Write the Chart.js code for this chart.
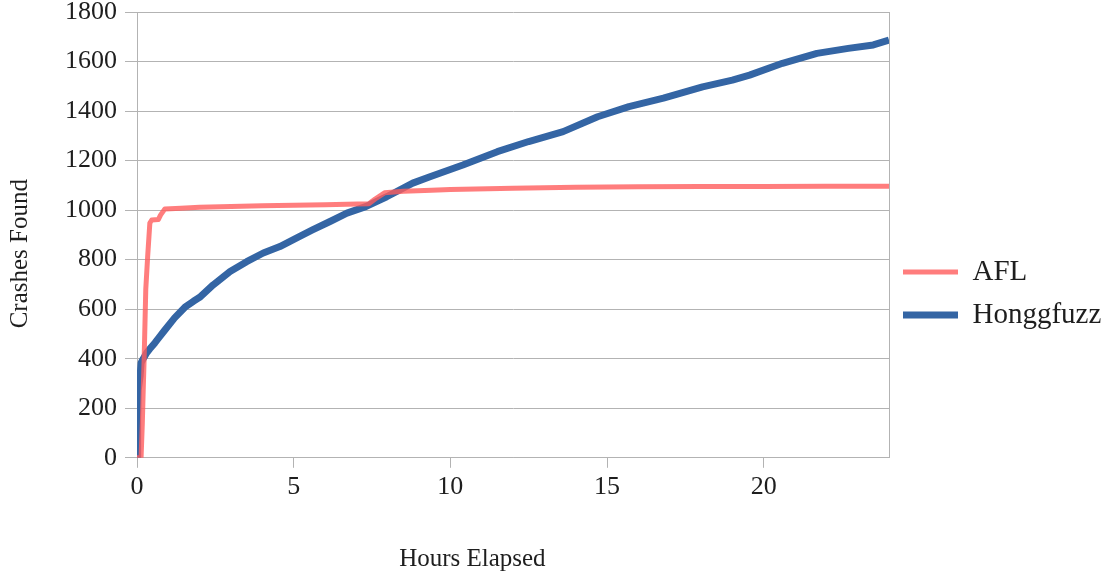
<!DOCTYPE html>
<html><head><meta charset="utf-8">
<script src="https://cdn.jsdelivr.net/npm/chart.js@4.4.1/dist/chart.umd.min.js"></script>
<style>html,body{margin:0;padding:0;background:#fff;}</style>
</head><body>
<canvas id="c" width="1107" height="575"></canvas>
<script>
const seriesNames = ['AFL', 'Honggfuzz'];
const xTitle = 'Hours Elapsed';
const yTitle = 'Crashes Found';

const aflHours   = [0, 0.13, 0.17, 0.2, 0.23, 0.28, 0.34, 0.41, 0.47, 0.68, 0.75, 0.89, 1.4, 2, 3, 4, 5, 6, 6.7, 7.4, 7.6, 7.9, 8.5, 9.4, 10, 12, 14, 16, 18, 20, 22, 24];
const aflCrashes = [0, 0, 140, 280, 410, 680, 812, 948, 960, 962, 980, 1005, 1008, 1012, 1015, 1018, 1020, 1022, 1024, 1026, 1045, 1070, 1076, 1080, 1083, 1088, 1092, 1094, 1095, 1095, 1096, 1096];

const hfHours   = [0, 0.02, 0.04, 0.1, 0.13, 0.2, 0.31, 0.41, 0.57, 0.7, 0.89, 1.2, 1.53, 1.8, 2.0, 2.43, 2.97, 3.5, 4.03, 4.56, 5.1, 5.6, 6.16, 6.7, 7.3, 7.97, 8.8, 9.35, 10.4, 11.5, 12.5, 13.6, 14.7, 15.7, 16.8, 18.05, 19.0, 19.55, 20.6, 21.7, 22.7, 23.5, 24];
const hfCrashes = [0, 150, 274, 330, 383, 400, 424, 440, 464, 485, 516, 565, 608, 632, 648, 698, 752, 792, 827, 853, 888, 920, 954, 988, 1014, 1054, 1109, 1135, 1182, 1236, 1277, 1317, 1377, 1418, 1452, 1498, 1525, 1545, 1593, 1633, 1653, 1667, 1687];

const xMin = 0, xMax = 24, xStep = 5;
const yMin = 0, yMax = 1800, yStep = 200;

const FONT = '"Liberation Serif", "Times New Roman", serif';
const GRID = '#b3b3b3';
const TEXT = '#1e1e1e';

function toPoints(xs, ys) { return xs.map((x, i) => ({x: x, y: ys[i]})); }

new Chart(document.getElementById('c'), {
  type: 'line',
  data: {
    datasets: [
      {
        label: seriesNames[0],
        data: toPoints(aflHours, aflCrashes),
        borderColor: 'rgba(255,92,92,0.8)',
        backgroundColor: 'rgba(255,92,92,0.8)',
        borderWidth: 5,
        pointRadius: 0,
        tension: 0,
        fill: false,
        borderJoinStyle: 'round'
      },
      {
        label: seriesNames[1],
        data: toPoints(hfHours, hfCrashes),
        borderColor: '#3465a4',
        backgroundColor: '#3465a4',
        borderWidth: 7,
        pointRadius: 0,
        tension: 0,
        fill: false,
        borderJoinStyle: 'round'
      }
    ]
  },
  options: {
    responsive: false,
    animation: false,
    events: [],
    layout: { padding: { top: 12, left: 0, right: 0, bottom: 0 } },
    plugins: {
      tooltip: { enabled: false },
      legend: {
        position: 'right',
        maxWidth: 218,
        labels: {
          usePointStyle: true,
          pointStyle: 'line',
          pointStyleWidth: 55,
          padding: 14,
          color: TEXT,
          font: { family: FONT, size: 29 }
        }
      }
    },
    scales: {
      x: {
        type: 'linear',
        min: xMin, max: xMax,
        border: { display: true, color: GRID, width: 1 },
        grid: {
          drawOnChartArea: true,
          lineWidth: 1,
          tickLength: 10,
          color: (c) => (c.tick && c.tick.value === xMax) ? GRID : 'rgba(0,0,0,0)',
          tickColor: (c) => (c.tick && c.tick.value < xMax) ? GRID : 'rgba(0,0,0,0)'
        },
        ticks: {
          stepSize: xStep,
          includeBounds: true,
          padding: 4,
          color: TEXT,
          maxRotation: 0,
          font: { family: FONT, size: 26 },
          callback: (v) => (v === xMax && v % xStep !== 0) ? '' : String(v)
        },
        title: {
          display: true,
          text: xTitle + '\u00A0'.repeat(13),
          color: TEXT,
          font: { family: FONT, size: 25 },
          padding: { top: 37, bottom: 1 }
        }
      },
      y: {
        type: 'linear',
        min: yMin, max: yMax,
        border: { display: true, color: GRID, width: 1 },
        grid: { color: GRID, lineWidth: 1, tickLength: 12 },
        ticks: {
          stepSize: yStep,
          padding: 8,
          color: TEXT,
          font: { family: FONT, size: 26, lineHeight: 0.3 },
          callback: (v) => String(v)
        },
        title: {
          display: true,
          text: yTitle + '\u00A0'.repeat(6),
          color: TEXT,
          font: { family: FONT, size: 25 },
          padding: { top: 5, bottom: 22 }
        }
      }
    }
  }
});
</script>
</body></html>
